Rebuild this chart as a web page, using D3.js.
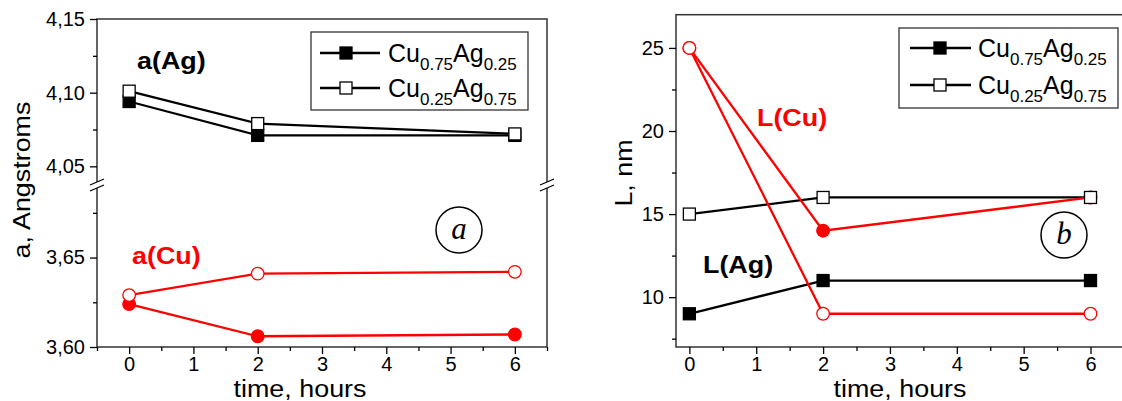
<!DOCTYPE html>
<html>
<head>
<meta charset="utf-8">
<script src="https://cdn.jsdelivr.net/npm/d3@7"></script>
<style>
  body { margin: 0; background: #fff; }
  svg text { font-family: "Liberation Sans", Arial, sans-serif; fill: #000; }
</style>
</head>
<body>
<div id="chart"></div>
<script>
// annealing time, hours
const times = [0, 2, 6];
const xTicks = [0, 1, 2, 3, 4, 5, 6];
const xMinorTicks = [-0.5, 0.5, 1.5, 2.5, 3.5, 4.5, 5.5, 6.5];

// lattice parameter a, Angstroms (panel a)
const aAg_Cu75 = [4.094, 4.071, 4.071];
const aAg_Cu25 = [4.101, 4.079, 4.072];
const aCu_Cu75 = [3.624, 3.606, 3.607];
const aCu_Cu25 = [3.629, 3.641, 3.642];
const aUpperTicks = [4.05, 4.10, 4.15];
const aUpperMinor = [4.075, 4.125];
const aLowerTicks = [3.60, 3.65];
const aLowerMinor = [3.625, 3.675];

// crystallite size L, nm (panel b)
const lAg_Cu75 = [9, 11, 11];
const lAg_Cu25 = [15, 16, 16];
const lCu_Cu75 = [25, 14, 16];
const lCu_Cu25 = [25, 9, 9];
const lTicks = [10, 15, 20, 25];
const lMinor = [7.5, 12.5, 17.5, 22.5];

const RED = "#ff0000";
const FRAME = "#333";
const SX = 1.12; // the original lettering is a bit wide

let svg = d3.select("#chart").append("svg")
  .attr("width", 1122)
  .attr("height", 401);

function commaFmt(d) {
  return d3.format(".2f")(d).replace(".", ",");
}

function pts(xs, ys) {
  return xs.map((x, i) => [x, ys[i]]);
}

function label(g, transform, str, size) {
  return g.append("text")
    .attr("transform", `${transform} scale(${SX},1)`)
    .style("font-size", size + "px")
    .text(str);
}

function drawLine(g, x, y, data, color) {
  g.append("path")
    .datum(data)
    .attr("fill", "none")
    .attr("stroke", color)
    .attr("stroke-width", 2.3)
    .attr("d", d3.line().x(d => x(d[0])).y(d => y(d[1])));
}

function drawSquares(g, x, y, data, filled) {
  g.selectAll(null)
    .data(data)
    .enter()
    .append("rect")
    .attr("x", d => x(d[0]) - 6)
    .attr("y", d => y(d[1]) - 6)
    .attr("width", 12)
    .attr("height", 12)
    .attr("fill", filled ? "#000" : "#fff")
    .attr("stroke", "#000")
    .attr("stroke-width", 1.3);
}

function drawCircles(g, x, y, data, filled) {
  g.selectAll(null)
    .data(data)
    .enter()
    .append("circle")
    .attr("cx", d => x(d[0]))
    .attr("cy", d => y(d[1]))
    .attr("r", 6.3)
    .attr("fill", filled ? RED : "#fff")
    .attr("stroke", RED)
    .attr("stroke-width", 1.3);
}

function styleAxis(g) {
  g.select(".domain").remove();
  g.selectAll(".tick line").attr("stroke", "#000").attr("stroke-width", 1.3);
  g.selectAll(".tick text").style("font-size", "20px");
}

function xAxis(g, x, yPos) {
  let [d0, d1] = x.domain();
  g.append("g")
    .attr("transform", `translate(0,${yPos})`)
    .call(d3.axisBottom(x).tickValues(xTicks).tickSize(7).tickPadding(3).tickFormat(d3.format("d")))
    .call(styleAxis);
  g.append("g")
    .attr("transform", `translate(0,${yPos})`)
    .call(d3.axisBottom(x).tickValues(xMinorTicks.filter(v => v >= d0 && v <= d1)).tickSize(4).tickFormat(""))
    .call(styleAxis);
}

function yAxis(g, y, xPos, ticks, minor, fmt) {
  g.append("g")
    .attr("transform", `translate(${xPos},0)`)
    .call(d3.axisLeft(y).tickValues(ticks).tickSize(7).tickPadding(5).tickFormat(fmt))
    .call(styleAxis);
  g.append("g")
    .attr("transform", `translate(${xPos},0)`)
    .call(d3.axisLeft(y).tickValues(minor).tickSize(4).tickFormat(""))
    .call(styleAxis);
}

function legend(g, x0, y0, w, h, lineX, markX, textX, rowY) {
  g.append("rect")
    .attr("x", x0).attr("y", y0).attr("width", w).attr("height", h)
    .attr("fill", "#fff").attr("stroke", FRAME).attr("stroke-width", 1.3);
  let rows = [
    { filled: true, a: "0.75", b: "0.25" },
    { filled: false, a: "0.25", b: "0.75" }
  ];
  rows.forEach((r, i) => {
    let cy = rowY[i];
    g.append("line")
      .attr("x1", lineX[0]).attr("x2", lineX[1])
      .attr("y1", cy).attr("y2", cy)
      .attr("stroke", "#000").attr("stroke-width", 2.3);
    g.append("rect")
      .attr("x", markX - 6).attr("y", cy - 6).attr("width", 12).attr("height", 12)
      .attr("fill", r.filled ? "#000" : "#fff")
      .attr("stroke", "#000").attr("stroke-width", 1.3);
    let t = g.append("text")
      .attr("x", textX).attr("y", cy + 9)
      .style("font-size", "25px");
    t.append("tspan").text("Cu");
    t.append("tspan").attr("dy", 8).style("font-size", "17px").text(r.a);
    t.append("tspan").attr("dy", -8).text("Ag");
    t.append("tspan").attr("dy", 8).style("font-size", "17px").text(r.b);
  });
}

function circledLetter(g, cx, cy, letter) {
  g.append("circle")
    .attr("cx", cx).attr("cy", cy).attr("r", 23)
    .attr("fill", "none").attr("stroke", "#000").attr("stroke-width", 1.5);
  g.append("text")
    .attr("x", cx).attr("y", cy + 9)
    .attr("text-anchor", "middle")
    .style("font-family", "'Liberation Serif', 'DejaVu Serif', serif")
    .style("font-style", "italic")
    .style("font-size", "31px")
    .text(letter);
}

function axisBreak(g, x, y) {
  g.append("rect")
    .attr("x", x - 5).attr("y", y - 3).attr("width", 10).attr("height", 6)
    .attr("fill", "#fff");
  [-3, 3].forEach(o => {
    g.append("line")
      .attr("x1", x - 7).attr("y1", y + o + 3)
      .attr("x2", x + 7).attr("y2", y + o - 3)
      .attr("stroke", "#000").attr("stroke-width", 1.3);
  });
}

// ---------- panel a ----------
{
  let g = svg.append("g");
  let x = d3.scaleLinear().domain([-0.5, 6.5]).range([97, 547]);
  let yUp = d3.scaleLinear().domain([4.038, 4.15]).range([184, 19]);
  let yLow = d3.scaleLinear().domain([3.60, 3.69]).range([347, 186]);

  g.append("rect")
    .attr("x", 97).attr("y", 19).attr("width", 450).attr("height", 328)
    .attr("fill", "none").attr("stroke", FRAME).attr("stroke-width", 1.5);
  axisBreak(g, 97, 185);
  axisBreak(g, 547, 185);

  xAxis(g, x, 347);
  yAxis(g, yUp, 97, aUpperTicks, aUpperMinor, commaFmt);
  yAxis(g, yLow, 97, aLowerTicks, aLowerMinor, commaFmt);

  drawLine(g, x, yUp, pts(times, aAg_Cu75), "#000");
  drawLine(g, x, yUp, pts(times, aAg_Cu25), "#000");
  drawSquares(g, x, yUp, pts(times, aAg_Cu75), true);
  drawSquares(g, x, yUp, pts(times, aAg_Cu25), false);

  drawLine(g, x, yLow, pts(times, aCu_Cu75), RED);
  drawLine(g, x, yLow, pts(times, aCu_Cu25), RED);
  drawCircles(g, x, yLow, pts(times, aCu_Cu75), true);
  drawCircles(g, x, yLow, pts(times, aCu_Cu25), false);

  legend(g, 311, 32, 217, 78, [320, 380], 346, 388, [53, 88]);

  label(g, "translate(137,69)", "a(Ag)", 24).style("font-weight", "bold");
  label(g, "translate(132,264)", "a(Cu)", 24).style("font-weight", "bold").style("fill", RED);

  circledLetter(g, 459, 230, "a");

  label(g, "translate(30,180) rotate(-90)", "a, Angstroms", 24).attr("text-anchor", "middle");
  label(g, "translate(300,397)", "time, hours", 24).attr("text-anchor", "middle");
}

// ---------- panel b ----------
{
  let g = svg.append("g");
  let x = d3.scaleLinear().domain([-0.2, 6.8]).range([676, 1144]);
  let y = d3.scaleLinear().domain([7, 27]).range([347, 14.7]);

  g.append("rect")
    .attr("x", 676).attr("y", 14.7).attr("width", 468).attr("height", 332.3)
    .attr("fill", "none").attr("stroke", FRAME).attr("stroke-width", 1.5);

  xAxis(g, x, 347);
  yAxis(g, y, 676, lTicks, lMinor, d3.format("d"));

  drawLine(g, x, y, pts(times, lAg_Cu75), "#000");
  drawLine(g, x, y, pts(times, lAg_Cu25), "#000");
  drawLine(g, x, y, pts(times, lCu_Cu75), RED);
  drawLine(g, x, y, pts(times, lCu_Cu25), RED);
  drawCircles(g, x, y, pts(times, lCu_Cu75), true);
  drawCircles(g, x, y, pts(times, lCu_Cu25), false);
  drawSquares(g, x, y, pts(times, lAg_Cu75), true);
  drawSquares(g, x, y, pts(times, lAg_Cu25), false);

  legend(g, 899, 28, 219, 80, [910, 971], 940, 978, [48, 85]);

  label(g, "translate(757,126)", "L(Cu)", 24).style("font-weight", "bold").style("fill", RED);
  label(g, "translate(703,273)", "L(Ag)", 24).style("font-weight", "bold");

  circledLetter(g, 1064, 235, "b");

  label(g, "translate(632,173) rotate(-90)", "L, nm", 24).attr("text-anchor", "middle");
  label(g, "translate(900,397)", "time, hours", 24).attr("text-anchor", "middle");
}
</script>
</body>
</html>
